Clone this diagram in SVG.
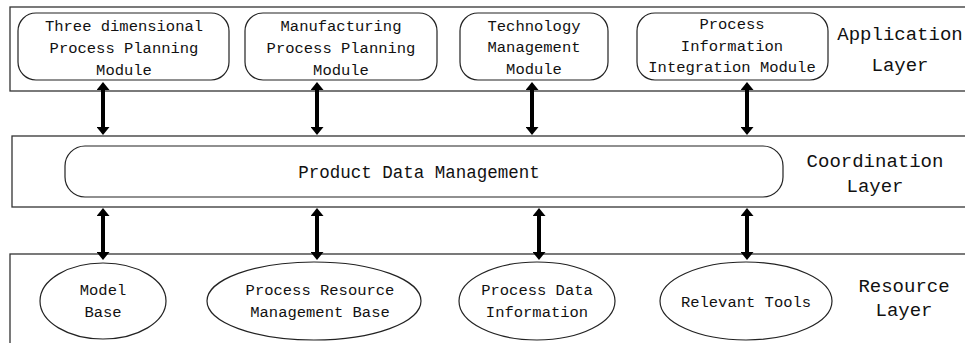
<svg xmlns="http://www.w3.org/2000/svg" width="965" height="343" viewBox="0 0 965 343">
<style>
.layer{fill:#fff;stroke:#333;stroke-width:1.3}
.node{fill:#fff;stroke:#222;stroke-width:1.2}
.t{font-family:"Liberation Mono",monospace;font-size:15.5px;fill:#111;text-anchor:middle}
.pdm{font-size:17.5px}
.lab{font-size:19px}
.arr{stroke:#000;stroke-width:4;fill:none;marker-start:url(#ah);marker-end:url(#ah)}
</style>
<defs>
<marker id="ah" viewBox="0 0 8 13" refX="3" refY="6.5" markerWidth="8" markerHeight="13" orient="auto-start-reverse" markerUnits="userSpaceOnUse">
<path d="M0,0 L8,6.5 L0,13 z" fill="#000"/>
</marker>
</defs>
<rect width="965" height="343" fill="#fff"/>
<g id="application-layer">
<rect class="layer" x="10" y="7" width="965" height="84"/>
<text class="t lab" x="900" y="40">Application</text>
<text class="t lab" x="900" y="71">Layer</text>
</g>
<g id="coordination-layer">
<rect class="layer" x="12" y="136" width="965" height="71"/>
<text class="t lab" x="875" y="167">Coordination</text>
<text class="t lab" x="875" y="192">Layer</text>
</g>
<g id="resource-layer">
<rect class="layer" x="10" y="254" width="965" height="100"/>
<text class="t lab" x="904" y="292">Resource</text>
<text class="t lab" x="904" y="316">Layer</text>
</g>
<g id="m1">
<rect class="node" x="18" y="13" width="211" height="67" rx="18"/>
<text class="t" x="124" y="31">Three dimensional</text>
<text class="t" x="124" y="53">Process Planning</text>
<text class="t" x="124" y="75">Module</text>
</g>
<g id="m2">
<rect class="node" x="245" y="13" width="192" height="67" rx="18"/>
<text class="t" x="341" y="31">Manufacturing</text>
<text class="t" x="341" y="53">Process Planning</text>
<text class="t" x="341" y="75">Module</text>
</g>
<g id="m3">
<rect class="node" x="460" y="13" width="148" height="67" rx="18"/>
<text class="t" x="534" y="31">Technology</text>
<text class="t" x="534" y="52">Management</text>
<text class="t" x="534" y="74">Module</text>
</g>
<g id="m4">
<rect class="node" x="637" y="13" width="191" height="67" rx="18"/>
<text class="t" x="732" y="29">Process</text>
<text class="t" x="732" y="51">Information</text>
<text class="t" x="732" y="72">Integration Module</text>
</g>
<g id="pdm">
<rect class="node" x="65" y="146" width="718" height="51" rx="20"/>
<text class="t pdm" x="419" y="178">Product Data Management</text>
</g>
<g id="r1">
<ellipse class="node" cx="103" cy="301" rx="63" ry="38"/>
<text class="t" x="103" y="295">Model</text>
<text class="t" x="103" y="317">Base</text>
</g>
<g id="r2">
<ellipse class="node" cx="314" cy="301" rx="107" ry="39"/>
<text class="t" x="320" y="295">Process Resource</text>
<text class="t" x="320" y="317">Management Base</text>
</g>
<g id="r3">
<ellipse class="node" cx="537" cy="301" rx="78" ry="39"/>
<text class="t" x="537" y="295">Process Data</text>
<text class="t" x="537" y="317">Information</text>
</g>
<g id="r4">
<ellipse class="node" cx="746" cy="301" rx="86" ry="39"/>
<text class="t" x="746" y="307">Relevant Tools</text>
</g>
<g id="connectors">
<line class="arr" x1="103" y1="87" x2="103" y2="130"/>
<line class="arr" x1="317" y1="87" x2="317" y2="130"/>
<line class="arr" x1="532" y1="87" x2="532" y2="130"/>
<line class="arr" x1="747" y1="87" x2="747" y2="130"/>
<line class="arr" x1="103" y1="213" x2="103" y2="255"/>
<line class="arr" x1="317" y1="213" x2="317" y2="255"/>
<line class="arr" x1="539" y1="213" x2="539" y2="255"/>
<line class="arr" x1="747" y1="213" x2="747" y2="255"/>
</g>
</svg>
